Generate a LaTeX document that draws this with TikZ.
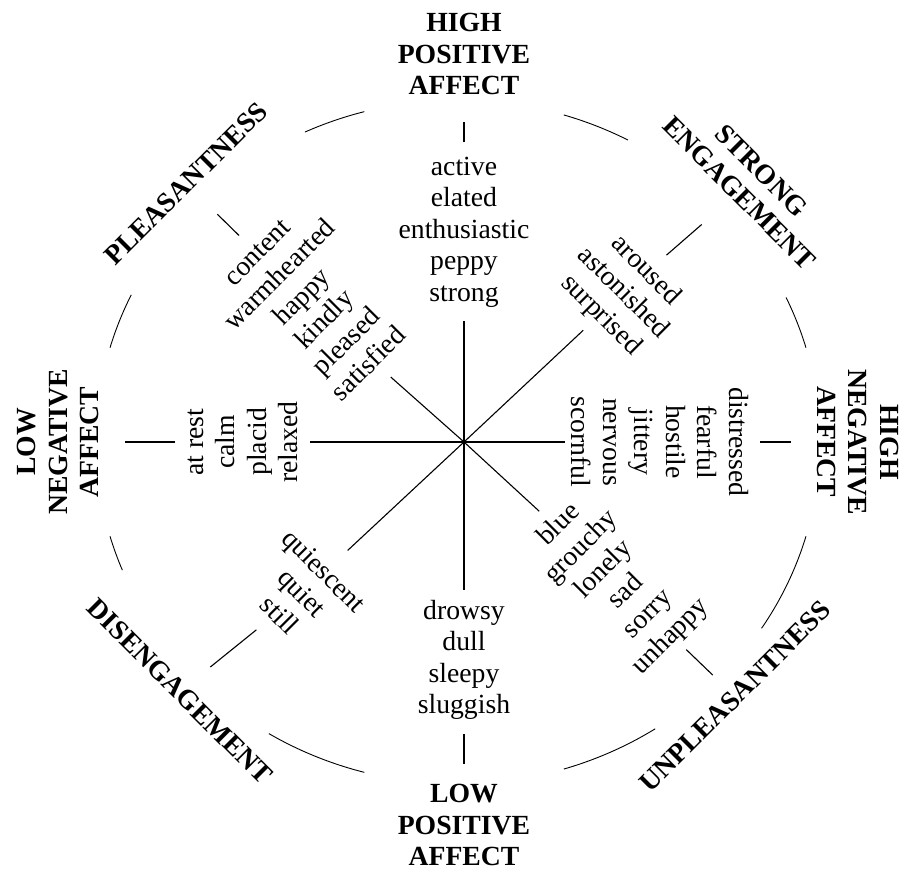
\documentclass[tikz,border=0pt]{standalone}
\usepackage{fontspec}
\setmainfont{Liberation Serif}
\newcommand{\parole}{\fontsize{27.7}{31.5}\selectfont}
\tikzset{
  parola/.style={font=\parole, align=center, inner sep=5pt},
  etichetta/.style={font=\parole\bfseries, align=center, inner sep=5pt},
}
\begin{document}
\begin{tikzpicture}[x=1pt,y=1pt,line width=1.1pt]
        \useasboundingbox (-464,-428) rectangle (439,442);
        \coordinate (c) at (0,0);
        \coordinate (ec) at (-6,0);
        %gruppi di parole
        \node[parola] (wN) at (0,210) {active\\elated\\enthusiastic\\peppy\\strong};
        \node[parola] (wS) at (0,-218) {drowsy\\dull\\sleepy\\sluggish};
        \node[parola,rotate=90] (wW) at (-221,0) {at rest\\calm\\placid\\relaxed};
        \node[parola,rotate=-90] (wE) at (196,0) {distressed\\fearful\\hostile\\jittery\\nervous\\scornful};
        \node[parola,rotate=45] (wNW) at (-150.5,133.5) {content\\warmhearted\\happy\\kindly\\pleased\\satisfied};
        \node[parola,rotate=-45] (wNE) at (159,149) {aroused\\astonished\\surprised};
        \node[parola,rotate=-45] (wSW) at (-162,-151) {quiescent\\quiet\\still};
        \node[parola,rotate=45] (wSE) at (151,-139) {blue\\grouchy\\lonely\\sad\\sorry\\unhappy};
        %etichette
        \node[etichetta] (lN) at (0,388) {HIGH\\POSITIVE\\AFFECT};
        \node[etichetta] (lS) at (0,-383) {LOW\\POSITIVE\\AFFECT};
        \node[etichetta,rotate=90] (lW) at (-406,0) {LOW\\NEGATIVE\\AFFECT};
        \node[etichetta,rotate=-90] (lE) at (394,0) {HIGH\\NEGATIVE\\AFFECT};
        \node[etichetta,rotate=45] (lNW) at (-278,258.5) {PLEASANTNESS};
        \node[etichetta,rotate=-45] (lNE) at (286.5,260) {STRONG\\ENGAGEMENT};
        \node[etichetta,rotate=-45] (lSW) at (-284,-249.5) {DISENGAGEMENT};
        \node[etichetta,rotate=45] (lSE) at (271,-254.5) {UNPLEASANTNESS};
        %assi dal centro
        \draw[shorten >=8pt] (c) -- (wN);
        \draw[shorten >=5pt] (c) -- (wS);
        \draw[shorten >=6pt] (c) -- (wW);
        \draw[shorten >=1pt] (c) -- (wE);
        \draw[shorten >=11pt] (c) -- (wNW);
        \draw[shorten >=5pt] (c) -- (wNE);
        \draw[shorten >=16pt] (c) -- (wSW);
        \draw[shorten >=6pt] (c) -- (wSE);
        %tacche verso le etichette
        \draw[shorten <=9pt,shorten >=22pt] (wN) -- (lN);
        \draw[shorten <=9pt,shorten >=15pt] (wS) -- (lS);
        \draw[shorten <=7pt,shorten >=21pt] (wW) -- (lW);
        \draw[shorten <=6pt,shorten >=21pt] (wE) -- (lE);
        \draw[shorten <=12pt,shorten >=29pt] (wNW) -- (lNW);
        \draw[shorten <=8pt,shorten >=34pt] (wNE) -- (lNE);
        \draw[shorten <=12pt,shorten >=24pt] (wSW) -- (lSW);
        \draw[shorten <=2pt,shorten >=16pt] (wSE) -- (lSE);
        %archi esterni
        \foreach \a/\b in {105/115, 62/73, 16/25, -33/-16, -73/-57, 238.5/255, 196/202, 154.5/164}
          \draw[line width=0.9pt] (ec) ++(\a:362pt and 342pt) arc[start angle=\a, end angle=\b, x radius=362pt, y radius=342pt];
\end{tikzpicture}
\end{document}
